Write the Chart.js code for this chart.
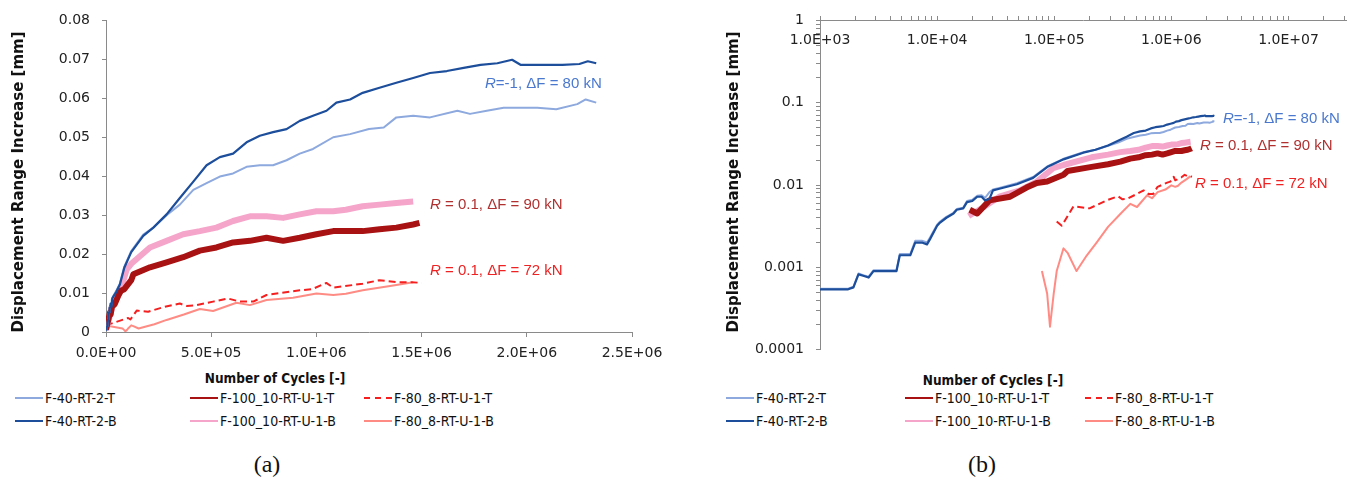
<!DOCTYPE html>
<html><head><meta charset="utf-8">
<script src="https://cdn.jsdelivr.net/npm/chart.js@4.4.1/dist/chart.umd.min.js"></script>
<style>
html,body{margin:0;padding:0;background:#fff;width:1364px;height:485px;overflow:hidden;position:relative;}
canvas{position:absolute;}
.t{position:absolute;white-space:nowrap;color:#111;}
.ttl{font-family:"DejaVu Sans",sans-serif;font-weight:bold;}
.xttl{font-family:"DejaVu Sans Condensed","Liberation Sans",sans-serif;font-weight:bold;}
.ann{font-family:"Liberation Sans",sans-serif;font-size:15px;transform:translate(0,-50%);}
.leg{position:absolute;font-family:"Liberation Sans Narrow","DejaVu Sans Condensed","Liberation Sans",sans-serif;font-size:14px;color:#111;white-space:nowrap;transform:translate(0,-50%);}
.cap{font-family:"Liberation Serif",serif;font-size:24px;transform:translate(-50%,-50%);}
</style></head><body>
<canvas id="chartA" width="680" height="366" style="left:0;top:0"></canvas>
<canvas id="chartB" width="674" height="370" style="left:690px;top:0"></canvas>
<div id="overlay"></div>
<script>
// ---------- DATA (cycles, displacement range increase [mm]) ----------
const seriesNames = ['F-40-RT-2-T','F-40-RT-2-B','F-100_10-RT-U-1-T','F-100_10-RT-U-1-B','F-80_8-RT-U-1-T','F-80_8-RT-U-1-B'];

const f40T_x = [1000,1740,1930,2130,2340,2600,2860,4500,4800,5900,6500,7400,8200,8700,10000,10600,12000,13800,14700,16700,18000,20000,22000,24000,25700,28000,30000,34000,48000,66000,87000,120000,177000,225000,288000,351000,415000,478000,541000,604000,668000,731000,794000,858000,921000,984000,1080000,1160000,1250000,1320000,1380000,1460000,1540000,1670000,1730000,1810000,1890000,1970000,2050000,2140000,2240000,2280000,2330000];
const f40T_y = [0.00055,0.00055,0.00058,0.00084,0.0008,0.00077,0.00092,0.00092,0.00145,0.00145,0.0021,0.0021,0.002,0.0023,0.0033,0.0036,0.0041,0.0046,0.0051,0.0053,0.0064,0.0066,0.0074,0.0075,0.007,0.0082,0.0088,0.0092,0.0105,0.0125,0.0168,0.0208,0.025,0.0268,0.03,0.0327,0.0365,0.0382,0.0399,0.0407,0.0424,0.0428,0.0428,0.0441,0.0458,0.047,0.05,0.0508,0.0521,0.0525,0.0551,0.0555,0.0551,0.0568,0.056,0.0568,0.0576,0.0576,0.0576,0.0572,0.0585,0.0597,0.0589];

const f40B_x = [1000,1740,1930,2130,2340,2600,2860,4500,4800,5900,6500,7400,8200,8700,10000,10600,12000,13800,14700,16700,18000,20000,22000,24000,25700,28000,30000,34000,48000,66000,87000,120000,177000,225000,288000,351000,415000,478000,541000,604000,668000,731000,794000,858000,921000,984000,1048000,1095000,1160000,1220000,1300000,1380000,1460000,1540000,1620000,1700000,1780000,1860000,1930000,1970000,2010000,2090000,2170000,2250000,2290000,2330000];
const f40B_y = [0.00054,0.00054,0.00057,0.00082,0.00079,0.00075,0.0009,0.0009,0.0014,0.0014,0.002,0.002,0.0019,0.0022,0.0032,0.0035,0.004,0.0045,0.005,0.0052,0.0062,0.0064,0.0072,0.0072,0.0065,0.0068,0.0086,0.009,0.0102,0.0122,0.0165,0.0205,0.0247,0.0268,0.0302,0.0344,0.0386,0.0428,0.0449,0.0458,0.0487,0.0504,0.0513,0.0521,0.0542,0.0555,0.0568,0.0589,0.0597,0.0614,0.0627,0.064,0.0652,0.0665,0.067,0.0678,0.0686,0.069,0.0699,0.0686,0.0686,0.0686,0.0686,0.0688,0.0695,0.069];

const f100T_x = [0,19000,22000,28000,42000,58000,71000,87000,120000,130000,209000,288000,367000,446000,525000,604000,684000,763000,842000,921000,1000000,1080000,1220000,1300000,1380000,1460000,1490000];
const f100T_y = [0.0006,0.005,0.0045,0.0065,0.0072,0.0093,0.0106,0.011,0.0133,0.0148,0.0166,0.0179,0.0192,0.0209,0.0217,0.023,0.0234,0.0242,0.0234,0.0242,0.0251,0.0259,0.0259,0.0264,0.0268,0.0276,0.028];

const f100B_x = [0,18600,25000,34000,51000,71000,98000,120000,209000,288000,367000,446000,525000,604000,684000,763000,842000,921000,1000000,1080000,1140000,1220000,1300000,1380000,1460000];
const f100B_y = [0.0006,0.0042,0.0054,0.0072,0.0086,0.011,0.016,0.0175,0.0217,0.0234,0.0251,0.0259,0.0268,0.0285,0.0297,0.0297,0.0293,0.0302,0.031,0.031,0.0314,0.0323,0.0327,0.0331,0.0335];

const f80T_x = [0,105000,116000,146000,200000,280000,351000,383000,420000,509000,580000,636000,700000,763000,921000,980000,1047000,1080000,1110000,1220000,1300000,1380000,1450000,1500000];
const f80T_y = [0.0017,0.0036,0.0032,0.0055,0.0052,0.0065,0.0073,0.0067,0.0068,0.0078,0.0086,0.0078,0.0078,0.0095,0.0107,0.011,0.0126,0.0114,0.0116,0.0124,0.0133,0.0128,0.0128,0.0126];

const f80B_x = [0,78500,87000,92000,99000,105000,120000,130000,155000,190000,230000,288000,370000,446000,509000,620000,684000,763000,889000,1000000,1080000,1140000,1220000,1350000,1460000];
const f80B_y = [0.0017,0.0009,0.00048,0.00019,0.00048,0.0009,0.0017,0.0015,0.0009,0.0014,0.002,0.0031,0.0045,0.0059,0.0054,0.0075,0.0069,0.0082,0.0088,0.0099,0.0095,0.0098,0.0107,0.0118,0.0128];

// tick values / labels
const linXTicks = [0,500000,1000000,1500000,2000000,2500000];
const linXLabels = ['0.0E+00','5.0E+05','1.0E+06','1.5E+06','2.0E+06','2.5E+06'];
const linYTicks = [0,0.01,0.02,0.03,0.04,0.05,0.06,0.07,0.08];
const linYLabels = ['0','0.01','0.02','0.03','0.04','0.05','0.06','0.07','0.08'];
const logXDecades = [1e3,1e4,1e5,1e6,1e7];
const logXLabels = ['1.0E+03','1.0E+04','1.0E+05','1.0E+06','1.0E+07'];
const logYDecades = [0.0001,0.001,0.01,0.1,1];
const logYLabels = ['0.0001','0.001','0.01','0.1','1'];

const annotTexts = ['=-1, \u0394F = 80 kN',' = 0.1, \u0394F = 90 kN',' = 0.1, \u0394F = 72 kN'];

// ---------- STYLE ----------
const xs = [f40T_x,f40B_x,f100T_x,f100B_x,f80T_x,f80B_x];
const ys = [f40T_y,f40B_y,f100T_y,f100B_y,f80T_y,f80B_y];
const colors = ['#8DA9DE','#1D4E9B','#A81212','#F5A5CA','#F51F1F','#FF8C84'];
const widths = [2,2.2,6,6,2,2];
const dashes = [[],[],[],[],[7,4],[]];
const orders = [2,1,3,4,5,6];
const annColors = ['#4A78CF','#B03030','#EE2222'];
const AXIS = '#8a8a8a';
const TICKFONT = {family:'DejaVu Sans', size:14};

function makeDatasets(logMode){
  return seriesNames.map((name,i)=>{
    let pts = xs[i].map((x,j)=>({x:x,y:ys[i][j]}));
    if(logMode) pts = pts.filter(p=>p.x>0 && p.y>0);
    return {label:name,data:pts,borderColor:colors[i],backgroundColor:colors[i],borderWidth:widths[i],
      borderDash:dashes[i],pointRadius:0,tension:0,fill:false,order:orders[i],borderJoinStyle:'round',borderCapStyle:'butt'};
  });
}
function labelFrom(vals,labels){
  return function(v){ for(let k=0;k<vals.length;k++){ if(Math.abs(v-vals[k])<=Math.abs(vals[k])*1e-6+1e-12) return labels[k]; } return ''; };
}
function logTicks(minExp,maxExp,maxVal){
  const t=[];
  for(let e=minExp;e<=maxExp;e++){ for(let m=1;m<=9;m++){ const v=m*Math.pow(10,e); if(v<=maxVal*1.0000001) t.push({value:v}); } }
  return t;
}

// ---------- CHART (a) ----------
new Chart(document.getElementById('chartA'),{
  type:'line',
  data:{datasets:makeDatasets(false)},
  options:{
    responsive:false,animation:false,
    layout:{padding:{left:0,top:17,right:48,bottom:0}},
    plugins:{legend:{display:false},tooltip:{enabled:false}},
    scales:{
      x:{type:'linear',min:0,max:2500000,
        afterBuildTicks:s=>{s.ticks=linXTicks.map(v=>({value:v}));},
        afterFit:s=>{s.height=34;},
        ticks:{callback:labelFrom(linXTicks,linXLabels),color:'#222',font:TICKFONT,padding:8,maxRotation:0,minRotation:0,autoSkip:false},
        grid:{display:true,drawOnChartArea:false,drawTicks:true,tickLength:5,color:AXIS},
        border:{display:true,color:AXIS,width:1}},
      y:{type:'linear',min:0,max:0.08,
        afterBuildTicks:s=>{s.ticks=linYTicks.map(v=>({value:v}));},
        afterFit:s=>{s.width=106;},
        ticks:{callback:labelFrom(linYTicks,linYLabels),color:'#222',font:TICKFONT,padding:12,autoSkip:false},
        grid:{display:true,drawOnChartArea:false,drawTicks:true,tickLength:4,color:AXIS},
        border:{display:true,color:AXIS,width:1}}
    }
  }
});

// ---------- CHART (b) ----------
new Chart(document.getElementById('chartB'),{
  type:'line',
  data:{datasets:makeDatasets(true)},
  options:{
    responsive:false,animation:false,
    layout:{padding:{left:0,top:17,right:18,bottom:12}},
    plugins:{legend:{display:false},tooltip:{enabled:false}},
    scales:{
      x:{type:'logarithmic',axis:'x',position:{y:1},min:1000,max:31000000,
        afterBuildTicks:s=>{s.ticks=logTicks(3,7,31000000);},
        ticks:{callback:labelFrom(logXDecades,logXLabels),color:'#222',font:TICKFONT,padding:17,maxRotation:0,minRotation:0,autoSkip:false},
        grid:{display:true,drawOnChartArea:false,drawTicks:true,tickLength:-5,color:AXIS},
        border:{display:true,color:AXIS,width:1}},
      y:{type:'logarithmic',min:0.0001,max:1,
        afterBuildTicks:s=>{s.ticks=logTicks(-4,0,1);},
        afterFit:s=>{s.width=130;},
        ticks:{callback:labelFrom(logYDecades,logYLabels),color:'#222',font:TICKFONT,padding:12,autoSkip:false},
        grid:{display:true,drawOnChartArea:false,drawTicks:true,tickLength:4,color:AXIS},
        border:{display:true,color:AXIS,width:1}}
    }
  }
});

// ---------- HTML texts: titles, annotations, legends, captions ----------
const ov = document.getElementById('overlay');
function addText(cls,html,left,top,extra){
  const d=document.createElement('div'); d.className='t '+cls; d.innerHTML=html;
  d.style.left=left+'px'; d.style.top=top+'px'; if(extra) Object.assign(d.style,extra); ov.appendChild(d); return d;
}
const yTitle='Displacement Range Increase [mm]';
const xTitle='Number of Cycles [-]';
addText('ttl',yTitle,18,182,{fontSize:'15px',transform:'translate(-50%,-50%) rotate(-90deg)'});
addText('ttl',yTitle,733,182,{fontSize:'15px',transform:'translate(-50%,-50%) rotate(-90deg)'});
addText('xttl',xTitle,275,378,{fontSize:'13.5px',transform:'translate(-50%,-50%)'});
addText('xttl',xTitle,993,380,{fontSize:'13.5px',transform:'translate(-50%,-50%)'});

const annPosA=[[485,82],[430,203],[430,269]];
const annPosB=[[1223,117],[1200,144],[1195,182]];
[annPosA,annPosB].forEach(P=>P.forEach((p,i)=>{
  addText('ann','<i>R</i>'+annotTexts[i],p[0],p[1],{color:annColors[i]});
}));

// legends: column order T/B per specimen
function legend(colX,rowY){
  for(let c=0;c<3;c++){
    for(let r=0;r<2;r++){
      const i=c*2+r;
      const ln=document.createElement('div');
      ln.style.position='absolute'; ln.style.left=colX[c]+'px'; ln.style.top=(rowY[r]-1)+'px';
      ln.style.width='28px'; ln.style.height='0';
      ln.style.borderTop='2px '+(dashes[i].length?'dashed':'solid')+' '+colors[i];
      ov.appendChild(ln);
      const t=document.createElement('div'); t.className='leg'; t.textContent=seriesNames[i];
      t.style.left=(colX[c]+30)+'px'; t.style.top=rowY[r]+'px'; ov.appendChild(t);
    }
  }
}
legend([15,190,364],[398,421]);
legend([726,905,1085],[398,421]);
addText('cap','(a)',267,464);
addText('cap','(b)',982,464);
</script>
</body></html>
